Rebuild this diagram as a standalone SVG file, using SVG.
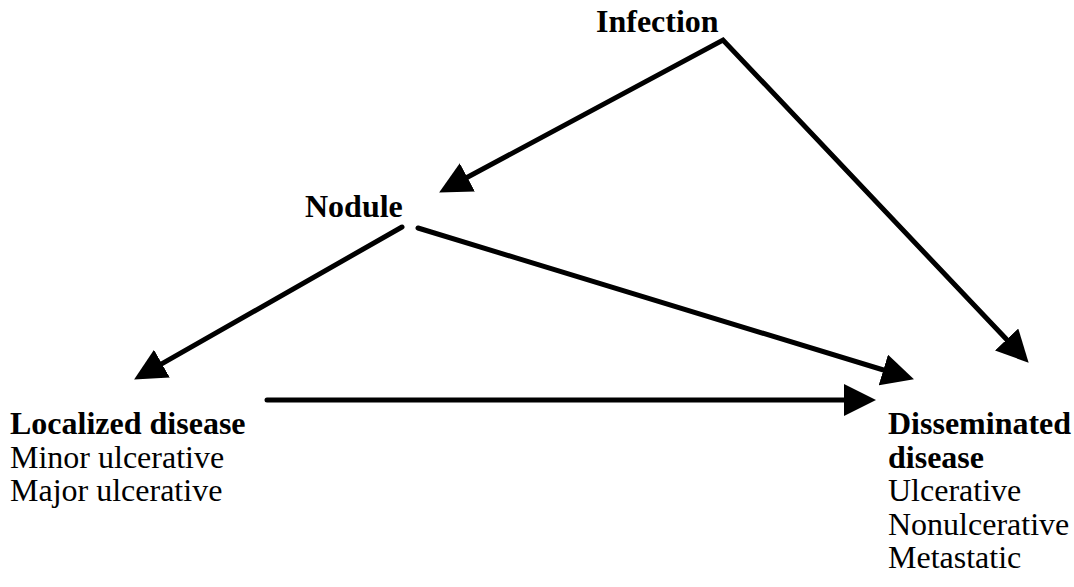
<svg xmlns="http://www.w3.org/2000/svg" width="1074" height="587" viewBox="0 0 1074 587">
  <style>
    text { font-family: 'Liberation Serif', 'Times New Roman', Times, 'DejaVu Serif', serif; font-size: 32px; fill: #000; }
    .b { font-weight: bold; }
    .c { fill: none; stroke: #000; stroke-width: 5; stroke-linecap: round; stroke-linejoin: miter; }
  </style>
  <defs>
    <marker id="ah" markerUnits="userSpaceOnUse" markerWidth="32" markerHeight="32" refX="19" refY="16" orient="auto-start-reverse">
      <path d="M0,0 L32,16 L0,32 Z" fill="#000"/>
    </marker>
  </defs>
  <rect width="1074" height="587" fill="#fff"/>
  <g id="connectors">
    <path class="c" d="M450.6,186.3 L723,40 L1019.7,353.3" marker-start="url(#ah)" marker-end="url(#ah)"/>
    <path class="c" d="M402,227 L145.4,373.1" marker-end="url(#ah)"/>
    <path class="c" d="M418,228 L901.5,375.5" marker-end="url(#ah)"/>
    <path class="c" d="M267,400 L863,400" marker-end="url(#ah)"/>
  </g>
  <g id="infection" font-family="Liberation Serif, serif">
    <text class="b" x="596" y="32">Infection</text>
  </g>
  <g id="nodule" font-family="Liberation Serif, serif">
    <text class="b" x="305" y="217">Nodule</text>
  </g>
  <g id="localized" font-family="Liberation Serif, serif">
    <text class="b" x="10" y="434">Localized disease</text>
    <text x="10" y="467.5">Minor ulcerative</text>
    <text x="10" y="501">Major ulcerative</text>
  </g>
  <g id="disseminated" font-family="Liberation Serif, serif">
    <text class="b" x="888" y="434">Disseminated</text>
    <text class="b" x="888" y="467.5">disease</text>
    <text x="888" y="501">Ulcerative</text>
    <text x="888" y="534.5">Nonulcerative</text>
    <text x="888" y="568">Metastatic</text>
  </g>
</svg>
